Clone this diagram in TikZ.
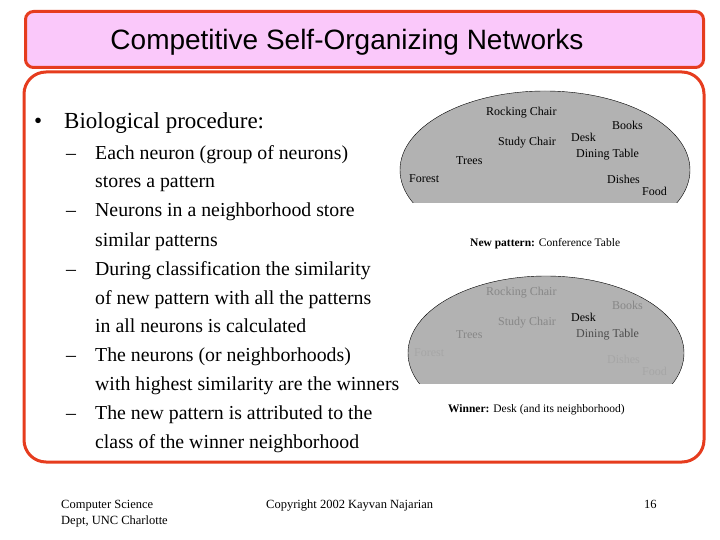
\documentclass[tikz,border=0pt]{standalone}
\usepackage{fontspec}
\setmainfont{Liberation Serif}
\newfontfamily\arialf{Liberation Sans}
\definecolor{rbord}{RGB}{230,60,30}
\definecolor{pinkf}{RGB}{250,200,250}
\definecolor{ellg}{RGB}{178,178,178}
\definecolor{dimg}{RGB}{135,135,135}
\begin{document}
\begin{tikzpicture}[x=1pt,y=-1pt,
  lab/.style={font=\fontsize{12}{12}\selectfont,inner sep=0pt,anchor=west},
  dim/.style={lab,text=dimg},
  bl/.style={font=\fontsize{19.8}{19.8}\selectfont,inner sep=0pt,anchor=base west},
  ft/.style={font=\fontsize{12.5}{16}\selectfont,inner sep=0pt}]
\useasboundingbox (0,0) rectangle (720,540);
\fill[white] (0,0) rectangle (720,540);
\draw[rbord,line width=3pt,fill=white,rounded corners=22pt] (24,72) rectangle (704,462);
\node[draw=rbord,line width=3pt,fill=pinkf,rounded corners=8pt,minimum width=678pt,minimum height=56pt,anchor=north west] (title) at (24,10) {};
\node[font=\arialf\fontsize{28}{28}\selectfont,inner sep=0pt] (tt) at (347,42) {Competitive Self-Organizing Networks};
% ellipses
\begin{scope}
\clip (390,85) rectangle (700,203);
\draw[fill=ellg] (545,170) ellipse (145pt and 79pt);
\end{scope}
\begin{scope}
\clip (390,270) rectangle (700,383);
\draw[fill=ellg] (546,353) ellipse (138pt and 77pt);
\end{scope}
\node[lab] (a1) at (486,113) {Rocking Chair};
\node[lab] (a2) at (612,125) {Books};
\node[lab] (a3) at (498,143) {Study Chair};
\node[lab] (a4) at (571,137) {Desk};
\node[lab] (a5) at (576,155) {Dining Table};
\node[lab] (a6) at (456,161) {Trees};
\node[lab] (a7) at (409,179) {Forest};
\node[lab] (a8) at (607,179) {Dishes};
\node[lab] (a9) at (642,191) {Food};
\node[lab,font=\fontsize{11.5}{12}\selectfont] (np) at (470,244) {\textbf{New pattern:} Conference Table};
\node[dim] (b1) at (486,293) {Rocking Chair};
\node[dim] (b2) at (612,305) {Books};
\node[dim] (b3) at (498,323) {Study Chair};
\node[lab] (b4) at (571,317) {Desk};
\node[dim,text=black!70] (b5) at (576,335) {Dining Table};
\node[dim] (b6) at (456,335) {Trees};
\node[dim,text=black!35] (b7) at (414,353) {Forest};
\node[dim,text=black!35] (b8) at (607,359) {Dishes};
\node[dim,text=black!35] (b9) at (642,371) {Food};
\node[lab,font=\fontsize{11.5}{12}\selectfont] (wn) at (448,410) {\textbf{Winner:} Desk (and its neighborhood)};
% bullets
\node[bl,font=\fontsize{23}{23}\selectfont] (b0) at (34,129) {\textbullet};
\node[bl,font=\fontsize{23}{23}\selectfont] (t0) at (64,129) {Biological procedure:};
\foreach \y in {160,217,275,361,419} \node[bl] at (66,\y) {--};
\node[bl] (t1) at (95,160) {Each neuron (group of neurons)};
\node[bl] (t2) at (95,188) {stores a pattern};
\node[bl] (t3) at (95,217) {Neurons in a neighborhood store};
\node[bl] (t4) at (95,246) {similar patterns};
\node[bl] (t5) at (95,275) {During classification the similarity};
\node[bl] (t6) at (95,304) {of new pattern with all the patterns};
\node[bl] (t7) at (95,332) {in all neurons is calculated};
\node[bl] (t8) at (95,361) {The neurons (or neighborhoods)};
\node[bl] (t9) at (95,390) {with highest similarity are the winners};
\node[bl] (t10) at (95,419) {The new pattern is attributed to the};
\node[bl] (t11) at (95,448) {class of the winner neighborhood};
% footer
\node[ft,align=left,anchor=north west] (f1) at (61,500) {Computer Science\\Dept, UNC Charlotte};
\node[ft,anchor=north west] (f2) at (266,500) {Copyright 2002 Kayvan Najarian};
\node[ft,anchor=north west] (f3) at (644,500) {16};
\end{tikzpicture}
\end{document}
